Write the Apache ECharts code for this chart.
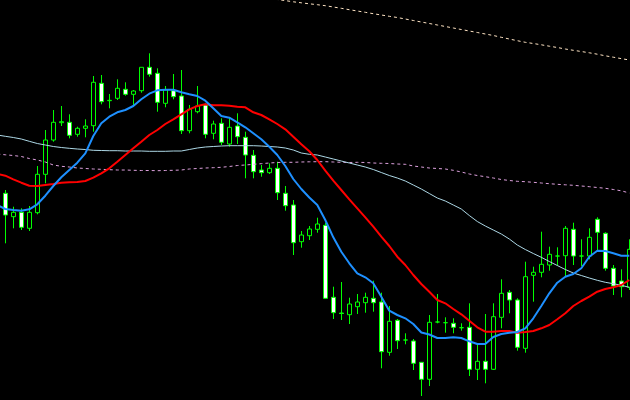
<!DOCTYPE html>
<html>
<head>
<meta charset="utf-8">
<script src="https://cdn.jsdelivr.net/npm/echarts@6/dist/echarts.min.js"></script>
<style>
html,body{margin:0;padding:0;background:#000;}
#chart{width:630px;height:400px;}
</style>
</head>
<body>
<div id="chart"></div>
<script>
// Candles (79 bars), price units
const opens  = [206.7,183.3,187.7,171.7,187.3,225.7,260,277.3,277.7,265.7,271.7,274.3,316.7,299.3,301.7,310.7,305.7,309.3,332.7,326.7,296.7,309.3,304,269.3,288.3,295,266.7,276.7,256,274,262.7,244.7,230,227.3,231.7,206.7,195,158.3,164.3,170.7,174.7,102.7,87,85.3,93.3,97.3,101.7,98,47.7,79.7,60,59,37.7,20.7,78,77.3,76.7,72.3,72.7,30.7,38.7,30.7,82.7,107.7,100,51.7,124.7,127.7,135,144,144.3,170.7,144,144,180.7,166.7,131.7,119,112.7];
const closes = [185,187.7,172.7,187.7,225.7,260,277.7,278.3,264.7,271.7,274,317.7,298.3,299.7,311.7,305.7,309,332.7,325.7,297.7,310,303.3,269.3,290.7,294,265.7,276,257.7,272.7,263.3,245,228.3,227.3,231.7,207.3,194.3,157.3,165,171,176,101.7,87.3,86.5,96,98,102.7,97.3,48.3,78.7,59.3,60,36.7,20.7,77.7,78,77.3,72.7,72.3,30.7,38.7,30.7,83.3,106.7,100,52.7,123.3,127.7,135.7,145.7,144,171.7,144,144,162.7,167.7,131.7,114,113.3,150.7];
const lows   = [156.7,171.7,170,169,185.7,216.7,258.3,274,261.7,263.3,262.7,268.3,295.7,291.7,300,304.3,295,307.3,323.3,288.3,292.7,300.7,266,266.7,286.7,261.7,260.7,255,253.3,256,221.7,221.7,223.3,226,200,189.3,145,152.3,160,167.3,101.7,81,80,76,86,87.3,88.3,31.7,44.3,51,55.7,30,4,14,76.7,67.3,66.7,69.3,24,20,16.7,30,71.7,86.7,49.3,47.3,98.3,122.7,129.3,134.3,123.3,135,134,140.7,150,129.3,105,102.7,110];
const highs  = [210,193.3,191.7,194,234,270,290,294,285.7,273.3,280.7,324,325,306,320.7,317.7,310,332.7,346.7,331.7,314,326,330,295,314,296.7,279.3,281.7,281.7,286.7,268.3,250,235,236.7,238.3,214,200,169,174,182.3,177.3,113.3,118,102.3,106,107.3,119.3,107.3,94,81,66.7,61,37.7,85,106,82.7,81.7,76.7,96.7,55,86,96.7,120.7,110,101.7,138.3,133.3,168.3,153.3,152.7,174,177.3,160.7,171.7,182.7,167.7,135,130.7,160.7];

// Indicator lines (80 points: one bar before the first visible candle + 79 bars)
const maFast = [195,191,190,189.3,190.7,195.7,204.3,214,222.7,230,237.3,246.7,264,276.7,283.3,287.7,290,294,300.7,306.3,309.7,310.3,310.3,307.7,305.7,304,299.3,291.7,284,282.3,277.7,272.7,266.7,260.7,253.3,245,234,221,211,202.5,195,180,162.7,148.3,136.7,126.7,122.7,116.7,103.3,89.3,85,81.7,76,67.5,65.5,62,62,62.7,62,58.7,56,56,63,66,67.3,68,71.7,81.7,94,106.7,117.3,123.3,126,131.7,143.3,149.3,149,146.7,144.3,144.3];
const maSlow = [226,224.3,220.7,217.3,214.3,214,215,216,217.3,217.7,218,219,222.3,226.7,231.7,238.3,245,251.7,258.3,265,270,276,280.7,285.7,290.7,294,295.7,294.7,294.7,294.3,293.3,292.7,287.7,285,280.7,276,270.7,263.3,255.7,248.7,240,229.3,219.3,210,200.7,191.7,182.7,173.3,163.3,154,143.3,135,125,116,108.3,100,96.7,91,85.7,79.3,72.7,68.3,68.3,69,69,67.3,68,69,71.7,75,80.7,86.7,94,99,103.3,108.3,111,112.7,115,120];
const maLong = [265,263.7,262.5,261,258.7,256.5,255,253.5,252.5,251.7,251,250.5,249.7,249.5,249.3,249.3,249,249,249,248.7,248.7,248.7,249,249,250.5,252,253,253.5,254,254.3,254.3,254.3,254.3,254,253.5,253,252,250,247,245.7,245,243,241,239,237,235,233,230.5,227.5,224.5,222,219,215,211,206.5,202,199,195,191,184.5,178.5,174,170,166,161,155,150.5,146.5,142.7,138.5,134.5,130.5,127,124.5,122,119.7,117.7,116.3,114.7,112.7];
const midBand = [246,245.2,244.5,243.5,241.5,240,238,235,233.7,233,232,231.5,231,230.7,230.3,230,230,229.7,229.5,229.5,229.3,229.5,229.7,230,231,231.5,232,232.3,232.7,233.5,234.5,235,235.7,236.3,237,237.5,237.7,237.7,238,238.2,238.3,238.3,238,237.7,237.5,237.7,237.5,237,236.7,236.5,236,235.7,234,233,232,231.5,231,229.7,228,226,224.5,223.3,222,220.5,219.5,218.7,218.3,217.7,217,216.3,215.7,215.2,214.7,214,213.3,212.5,211.7,210.5,209.2,207];
const upperBandStart = 34;
const upperBand = [401.5,400.5,399.4,398.2,397.2,396.2,395.3,394.3,393,391.7,390.3,389,387.7,386.3,385,383.7,382.5,381,379.5,378,376.5,375,373.5,372,370.5,369,367.5,366,364.5,362.7,361,359.3,357.7,356.5,355.2,353.8,352.5,351,349.7,348.5,347.2,345.8,344.2,342.8,341.4,340];

const nBars = maFast.length;
const categories = [];
for (let i = 0; i < nBars; i++) categories.push('Bar ' + i);

const candleData = [['-','-','-','-']];
for (let i = 0; i < opens.length; i++) candleData.push([opens[i], closes[i], lows[i], highs[i]]);

const upperData = [];
for (let i = 0; i < nBars; i++) {
  const k = i - upperBandStart;
  upperData.push(k >= 0 && k < upperBand.length ? upperBand[k] : null);
}

const chart = echarts.init(document.getElementById('chart'), null, {renderer: 'canvas'});
const lineBase = {type: 'line', showSymbol: false, symbol: 'none', silent: true, animation: false, clip: true};
chart.setOption({
  backgroundColor: '#000000',
  animation: false,
  grid: {left: -6.7, right: -3.3, top: 0, bottom: 0, containLabel: false, outerBoundsMode: 'none'},
  xAxis: {
    type: 'category', data: categories, boundaryGap: true,
    axisLine: {show: false}, axisTick: {show: false}, axisLabel: {show: false}, splitLine: {show: false}
  },
  yAxis: {
    type: 'value', min: 0, max: 400, scale: false,
    axisLine: {show: false}, axisTick: {show: false}, axisLabel: {show: false}, splitLine: {show: false}
  },
  series: [
    Object.assign({}, lineBase, {name: 'Upper', data: upperData, connectNulls: false,
      lineStyle: {color: '#ffe4c4', width: 1, type: [3, 3]}}),
    Object.assign({}, lineBase, {name: 'Middle', data: midBand,
      lineStyle: {color: '#dda0dd', width: 1, type: [3, 3]}}),
    Object.assign({}, lineBase, {name: 'MA long', data: maLong,
      lineStyle: {color: '#add8e6', width: 1}}),
    Object.assign({}, lineBase, {name: 'MA slow', data: maSlow,
      lineStyle: {color: '#ff0000', width: 2}}),
    Object.assign({}, lineBase, {name: 'MA fast', data: maFast,
      lineStyle: {color: '#1e90ff', width: 2}}),
    {
      type: 'candlestick', name: 'Price', data: candleData, barWidth: 5, silent: true, animation: false,
      itemStyle: {
        color: 'rgba(0,0,0,0)', color0: '#ffffff',
        borderColor: '#00ff00', borderColor0: '#00ff00', borderColorDoji: '#00ff00',
        borderWidth: 1
      }
    }
  ]
});
</script>
</body>
</html>
